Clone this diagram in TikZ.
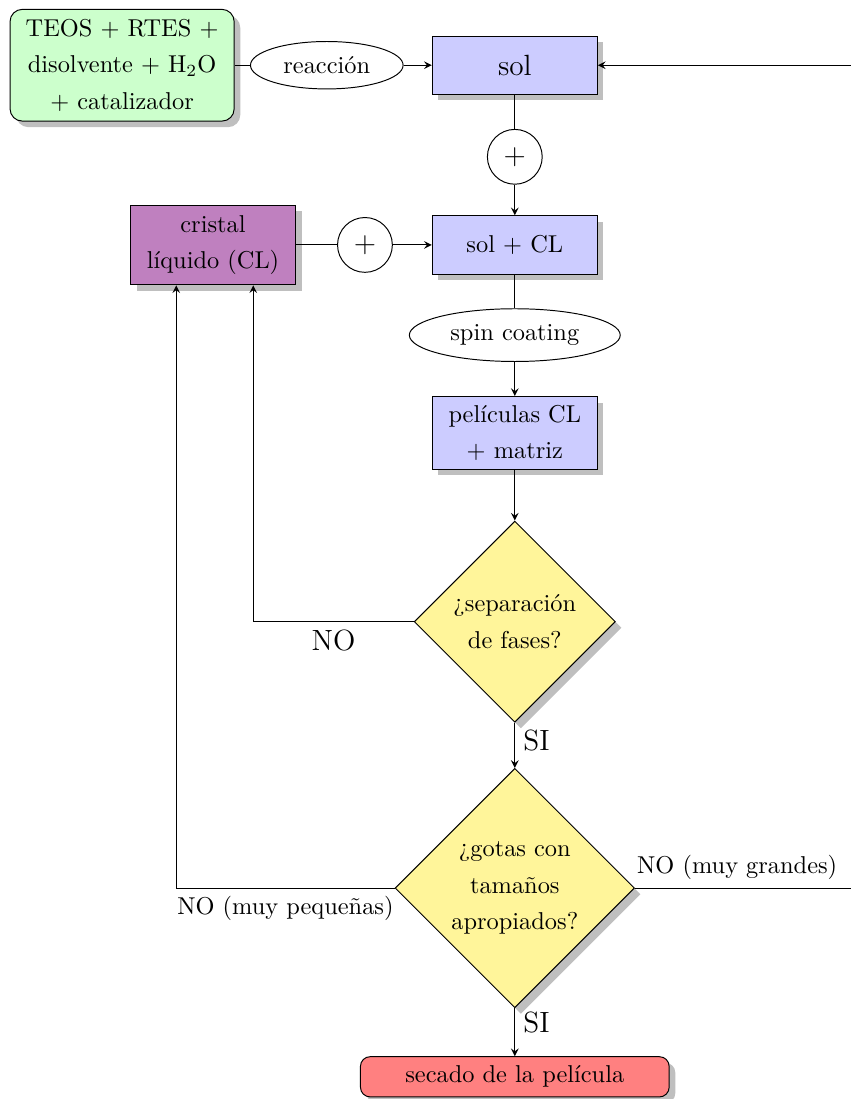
\documentclass[tikz,border=0pt]{standalone}
\usetikzlibrary{shapes.geometric,shadows,positioning}

\definecolor{amarillo}{HTML}{FFF59A}

\newcommand{\mainX}{7.42}
\newcommand{\loopRightX}{12.5}
\newcommand{\topY}{-0.94}
\newcommand{\mixY}{-3.53}

\tikzset{
  sombra/.style={drop shadow={shadow xshift=2.5pt, shadow yshift=-2.5pt, fill=black!25, opacity=1}},
  proceso/.style={rectangle, draw, fill=blue!20, minimum width=2.38cm, minimum height=0.84cm,
    align=center, font=\linespread{1.25}\selectfont, sombra},
  inicio/.style={proceso, fill=green!20, rounded corners=5pt, minimum width=3.23cm, minimum height=1.61cm},
  fin/.style={proceso, fill=red!50, rounded corners=4pt, minimum width=4.45cm, minimum height=0.58cm},
  decision/.style={diamond, draw, fill=amarillo, aspect=1, inner sep=0pt,
    align=center, font=\linespread{1.25}\selectfont, sombra},
  elipse/.style={ellipse, draw, minimum height=0.64cm},
  suma/.style={circle, draw, minimum size=0.79cm, inner sep=0pt, font=\large}
}

\begin{document}
\begin{tikzpicture}[>=stealth]
        \useasboundingbox (0,0) rectangle (12.26,-15.84);

        % Sol preparation
        \node[inicio] (reactivos) at (1.76,\topY) {TEOS + RTES +\\disolvente + H$_2$O\\+ catalizador};
        \node[elipse, minimum width=2.2cm] (reaccion) at (4.71,\topY) {reacción};
        \node[proceso, font=\large] (sol) at (\mainX,\topY) {sol};
        \node[suma] (mas1) at (\mainX,-2.26) {+};

        % Mixing with the liquid crystal
        \node[proceso] (solcl) at (\mainX,\mixY) {sol + CL};
        \node[proceso, fill=violet!50, minimum height=1.15cm] (cristal) at (3.07,\mixY) {cristal\\líquido (CL)};
        \node[suma] (mas2) at (5.26,\mixY) {+};
        \node[elipse, minimum width=3.04cm] (spin) at (\mainX,-4.83) {spin coating};
        \node[proceso, minimum height=1.05cm] (peliculas) at (\mainX,-6.24) {películas CL\\+ matriz};

        % Checks
        \node[decision, minimum size=2.9cm] (fases) at (\mainX,-8.96) {¿separación\\de fases?};
        \node[decision, minimum size=3.45cm] (gotas) at (\mainX,-12.8) {¿gotas con\\tamaños\\apropiados?};
        \node[fin] (secado) at (\mainX,-15.52) {secado de la película};
        \coordinate (vuelta) at (\loopRightX,-12.8);

        % Draw main flow
        \draw (reactivos) -- (reaccion);
        \draw[->] (reaccion) -- (sol);
        \draw (sol) -- (mas1);
        \draw[->] (mas1) -- (solcl);
        \draw (cristal) -- (mas2);
        \draw[->] (mas2) -- (solcl);
        \draw (solcl) -- (spin);
        \draw[->] (spin) -- (peliculas);
        \draw[->] (peliculas) -- (fases);
        \draw[->] (fases) -- node[right, pos=0.4, font=\large] {SI} (gotas);
        \draw[->] (gotas) -- node[right, pos=0.3, font=\large] {SI} (secado);

        % Draw feedback loops
        \draw[->] (fases.west) -| node[below, pos=0.25, font=\large] {NO} ([xshift=0.58cm]cristal.south);
        \draw[->] (gotas.west) -| node[below, pos=0.25] {NO (muy pequeñas)} ([xshift=-0.53cm]cristal.south);
        \draw[->] (gotas.east) -- node[above, pos=0.44] {NO (muy grandes)} (vuelta) |- (sol.east);
    \end{tikzpicture}
\end{document}
